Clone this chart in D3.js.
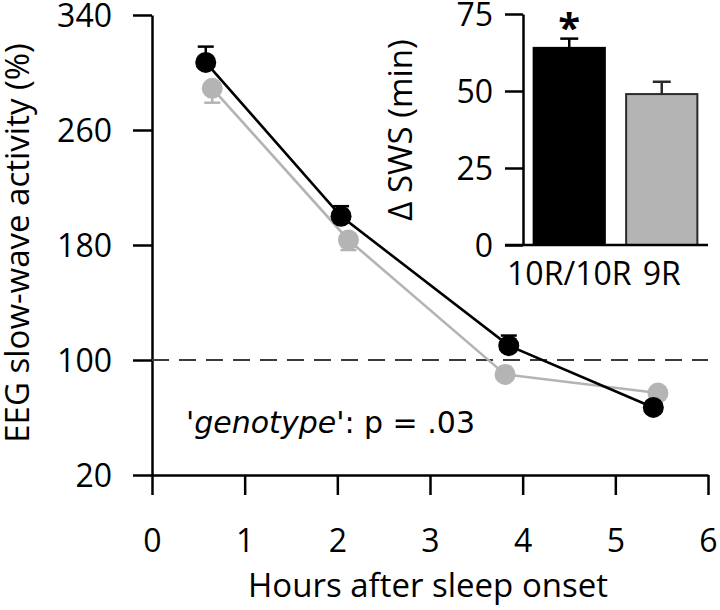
<!DOCTYPE html>
<html>
<head>
<meta charset="utf-8">
<script src="https://cdn.jsdelivr.net/npm/d3@7"></script>
<style>
  html, body { margin: 0; padding: 0; background: #fff; }
  svg { display: block; }
  .ax text { font-family: 'Open Sans', sans-serif; font-size: 32px; fill: #000; }
  .ax path, .ax line { stroke: #000; stroke-width: 2.5px; }
</style>
</head>
<body>
<svg id="chart" width="720" height="610"></svg>
<script>
// ---- Data ----
const hoursBlack = [0.58, 2.04, 3.85, 5.41];
const swaBlack   = [307, 200, 110, 67];
const errBlack   = [11, 7, 7, 3];
const hoursGray  = [0.65, 2.12, 3.81, 5.46];
const swaGray    = [289, 183.5, 90, 77];
const errGray    = [10, 7, 3, 3];
const xTicks = [0, 1, 2, 3, 4, 5, 6];
const yTicks = [20, 100, 180, 260, 340];
const baseline = 100;

const insetGroups = ["10R/10R", "9R"];
const insetValues = [64, 49];
const insetErrors = [3, 4];
const insetTicks = [0, 25, 50, 75];

const svg = d3.select("#chart");
const FONT = "'Open Sans', sans-serif";

// ---- Main chart ----
const x = d3.scaleLinear().domain([0, 6]).range([152, 708]);
const y = d3.scaleLinear().domain([20, 340]).range([475, 15]);

const xAxis = svg.append("g").attr("class", "ax")
  .attr("transform", `translate(0,${y(20)})`)
  .call(d3.axisBottom(x).tickValues(xTicks).tickSize(20).tickSizeOuter(0).tickFormat(d3.format("d")));
xAxis.selectAll("text").attr("dy", null).attr("y", 77);

const yAxis = svg.append("g").attr("class", "ax")
  .attr("transform", `translate(${x(0)},0)`)
  .call(d3.axisLeft(y).tickValues(yTicks).tickSize(19).tickSizeOuter(0).tickPadding(21));
yAxis.selectAll("text").attr("dy", "0.36em");

// dashed baseline
svg.append("line")
  .attr("x1", x(0)).attr("x2", x(6))
  .attr("y1", y(baseline)).attr("y2", y(baseline))
  .attr("stroke", "#3a3a3a").attr("stroke-width", 2)
  .attr("stroke-dasharray", "17,10");

function drawSeries(xs, ys, es, color, dir) {
  const pts = xs.map((d, i) => ({x: d, y: ys[i], e: es[i]}));
  const line = d3.line().x(d => x(d.x)).y(d => y(d.y));
  svg.append("path").datum(pts)
    .attr("d", line).attr("fill", "none")
    .attr("stroke", color).attr("stroke-width", 2.6);
  const eg = svg.append("g").attr("stroke", color).attr("stroke-width", 2.5);
  pts.forEach(d => {
    const yEnd = y(d.y + dir * d.e);
    eg.append("line").attr("x1", x(d.x)).attr("x2", x(d.x)).attr("y1", y(d.y)).attr("y2", yEnd);
    eg.append("line").attr("x1", x(d.x) - 8).attr("x2", x(d.x) + 8).attr("y1", yEnd).attr("y2", yEnd);
  });
  svg.append("g").selectAll("circle").data(pts).join("circle")
    .attr("cx", d => x(d.x)).attr("cy", d => y(d.y)).attr("r", 10.5)
    .attr("fill", color);
}
drawSeries(hoursGray, swaGray, errGray, "#b4b4b4", -1);
drawSeries(hoursBlack, swaBlack, errBlack, "#000000", 1);

// axis titles
svg.append("text")
  .attr("x", 428).attr("y", 597)
  .attr("text-anchor", "middle")
  .style("font-family", FONT).style("font-size", "33px")
  .text("Hours after sleep onset");

svg.append("text")
  .attr("transform", "translate(29,243) rotate(-90)")
  .attr("text-anchor", "middle")
  .style("font-family", FONT).style("font-size", "33px")
  .text("EEG slow-wave activity (%)");

// annotation
const ann = svg.append("text")
  .attr("x", 186).attr("y", 433)
  .style("font-family", "'DejaVu Sans', sans-serif").style("font-size", "30px");
ann.append("tspan").style("font-style", "italic").text("'genotype'");
ann.append("tspan").text(": p = .03");

// ---- Inset ----
const ix = d3.scaleBand().domain(insetGroups).range([523, 708]).paddingInner(0.23).paddingOuter(0.115);
const iy = d3.scaleLinear().domain([0, 75]).range([245, 14]);

const iyAxis = svg.append("g").attr("class", "ax")
  .attr("transform", "translate(523,0)")
  .call(d3.axisLeft(iy).tickValues(insetTicks).tickSize(18).tickSizeOuter(0).tickPadding(12));
iyAxis.selectAll("text").attr("dy", "0.36em");

const ixAxis = svg.append("g").attr("class", "ax")
  .attr("transform", `translate(0,${iy(0)})`)
  .call(d3.axisBottom(ix).tickSize(0).tickSizeOuter(0).tickPadding(0));
ixAxis.select(".domain").remove();
ixAxis.selectAll("text").attr("dy", null).attr("y", 40);

const barColors = ["#000000", "#b4b4b4"];
const barStroke = ["#000000", "#2a2a2a"];

insetGroups.forEach((g, i) => {
  const cx = ix(g) + ix.bandwidth() / 2;
  const top = iy(insetValues[i] + insetErrors[i]);
  svg.append("line").attr("x1", cx).attr("x2", cx).attr("y1", iy(insetValues[i])).attr("y2", top)
    .attr("stroke", barStroke[i]).attr("stroke-width", 2.5);
  svg.append("line").attr("x1", cx - 9).attr("x2", cx + 9).attr("y1", top).attr("y2", top)
    .attr("stroke", barStroke[i]).attr("stroke-width", 2.5);
});

svg.append("g").selectAll("rect").data(insetGroups).join("rect")
  .attr("x", d => ix(d)).attr("width", ix.bandwidth())
  .attr("y", (d, i) => iy(insetValues[i]))
  .attr("height", (d, i) => iy(0) - iy(insetValues[i]))
  .attr("fill", (d, i) => barColors[i])
  .attr("stroke", (d, i) => barStroke[i]).attr("stroke-width", 2);

svg.append("line").attr("x1", 505).attr("x2", 708)
  .attr("y1", iy(0)).attr("y2", iy(0))
  .attr("stroke", "#000").attr("stroke-width", 2.5);

// significance star
svg.append("text")
  .attr("x", ix(insetGroups[0]) + ix.bandwidth() / 2).attr("y", 42)
  .attr("text-anchor", "middle")
  .style("font-family", FONT).style("font-size", "40px").style("font-weight", "bold")
  .text("*");

svg.append("text")
  .attr("transform", "translate(412,130) rotate(-90)")
  .attr("text-anchor", "middle")
  .style("font-family", FONT).style("font-size", "33px")
  .text("Δ SWS (min)");
</script>
</body>
</html>
